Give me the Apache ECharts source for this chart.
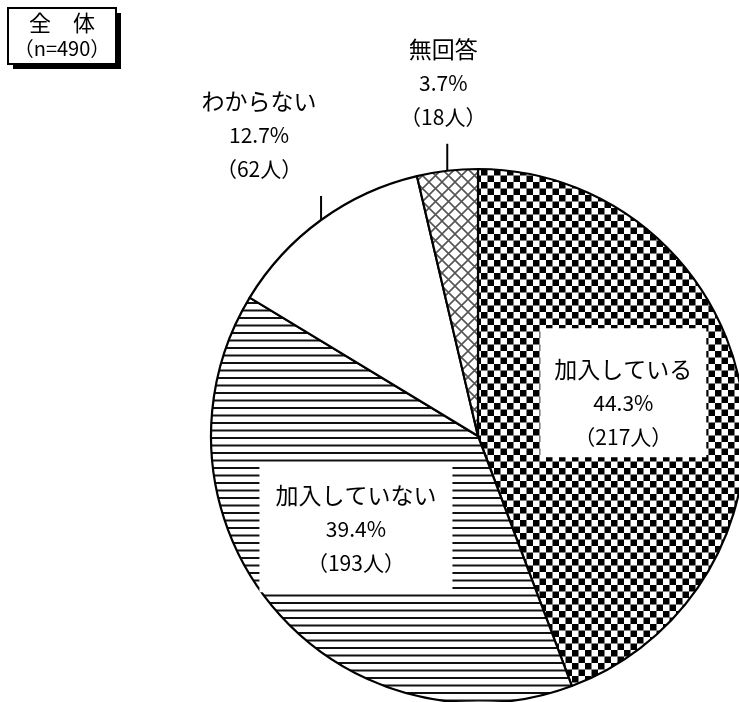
<!DOCTYPE html>
<html><head><meta charset="utf-8">
<script src="https://cdn.jsdelivr.net/npm/echarts@6/dist/echarts.min.js"></script>
<style>html,body{margin:0;padding:0;background:#fff}#c{width:739px;height:702px}</style>
</head><body><div id="c"></div>
<script>
const categories = ['加入している', '加入していない', 'わからない', '無回答'];
const counts = [217, 193, 62, 18];
const percents = [44.3, 39.4, 12.7, 3.7];
const totalLabel = ['全\u3000体', '（n=490）'];

function mkPattern(w, h, draw) {
  const cv = document.createElement('canvas');
  cv.width = w; cv.height = h;
  const ctx = cv.getContext('2d');
  ctx.fillStyle = '#fff'; ctx.fillRect(0, 0, w, h);
  draw(ctx);
  return { image: cv, repeat: 'repeat' };
}
const checker = mkPattern(13, 13, ctx => {
  ctx.fillStyle = '#000';
  ctx.fillRect(0, 0, 6.5, 6.5);
  ctx.fillRect(6.5, 6.5, 6.5, 6.5);
});
const hlines = mkPattern(8, 15, ctx => {
  ctx.fillStyle = '#111';
  ctx.fillRect(0, 2, 8, 2);
  ctx.fillRect(0, 9.5, 8, 2);
});
const plain = '#fff';
const cross = mkPattern(13, 13, ctx => {
  ctx.strokeStyle = '#555'; ctx.lineWidth = 1.6;
  ctx.beginPath();
  ctx.moveTo(0, 0); ctx.lineTo(13, 13);
  ctx.moveTo(13, 0); ctx.lineTo(0, 13);
  ctx.stroke();
});
const fills = [checker, hlines, plain, cross];

const FONT = '"Noto Sans CJK JP", "Noto Sans", sans-serif';
const rich = {
  n: { fontSize: 23, lineHeight: 34, fontFamily: FONT, color: '#000' },
  p: { fontSize: 21, lineHeight: 34, fontFamily: FONT, color: '#000' },
  c: { fontSize: 21, lineHeight: 34, fontFamily: FONT, color: '#000' }
};
const innerLabel = (pad, width) => ({
  position: 'inside', backgroundColor: '#fff', padding: pad, width: width,
  align: 'center', rich: rich
});
const outerLabel = { position: 'outside', rich: rich, align: 'center' };

const data = categories.map((name, i) => ({
  name: name, value: counts[i],
  itemStyle: { color: fills[i] },
  label: i === 0 ? innerLabel([24, 10, 3, 10], 146) :
         i === 1 ? innerLabel([14, 10, 12, 10], 173) : outerLabel,
  labelLine: { show: i >= 2, lineStyle: { color: '#000', width: 2 } }
}));

const chart = echarts.init(document.getElementById('c'));
chart.setOption({
  animation: false,
  graphic: [
    { type: 'rect', shape: { x: 13, y: 13, width: 108, height: 56 }, style: { fill: '#000' } },
    { type: 'rect', shape: { x: 8, y: 8, width: 108, height: 56 }, style: { fill: '#fff', stroke: '#000', lineWidth: 2 } },
    { type: 'text', x: 62, y: 23, style: { text: totalLabel[0], font: '22px ' + FONT, fill: '#000', align: 'center', verticalAlign: 'middle' } },
    { type: 'text', x: 62, y: 48, style: { text: totalLabel[1], font: '20px ' + FONT, fill: '#000', align: 'center', verticalAlign: 'middle' } }
  ],
  series: [{
    type: 'pie',
    center: [478, 436],
    radius: 267,
    startAngle: 90,
    clockwise: true,
    data: data,
    itemStyle: { borderColor: '#000', borderWidth: 2.2 },
    label: {
      formatter: p => `{n|${p.name}}\n{p|${percents[p.dataIndex].toFixed(1)}%}\n{c|（${p.value}人）}`,
      rich: rich
    },
    labelLine: { length: 20, length2: 0 },
    labelLayout: function (p) {
      const i = p.dataIndex;
      if (i === 0) return { dx: 11, dy: -19 };
      if (i === 1) return { dx: -17, dy: 5 };
      const pts = p.labelLinePoints;
      if (!pts) return {};
      const e = pts[0];
      const up = i === 2 ? 24 : 27;
      const offX = i === 2 ? -62 : -4;
      const gap = 10;
      return {
        x: e[0] + offX, y: e[1] - up - gap,
        align: 'center', verticalAlign: 'bottom',
        labelLinePoints: [[e[0], e[1]], [e[0], e[1] - up], [e[0], e[1] - up]]
      };
    }
  }]
});
</script></body></html>
